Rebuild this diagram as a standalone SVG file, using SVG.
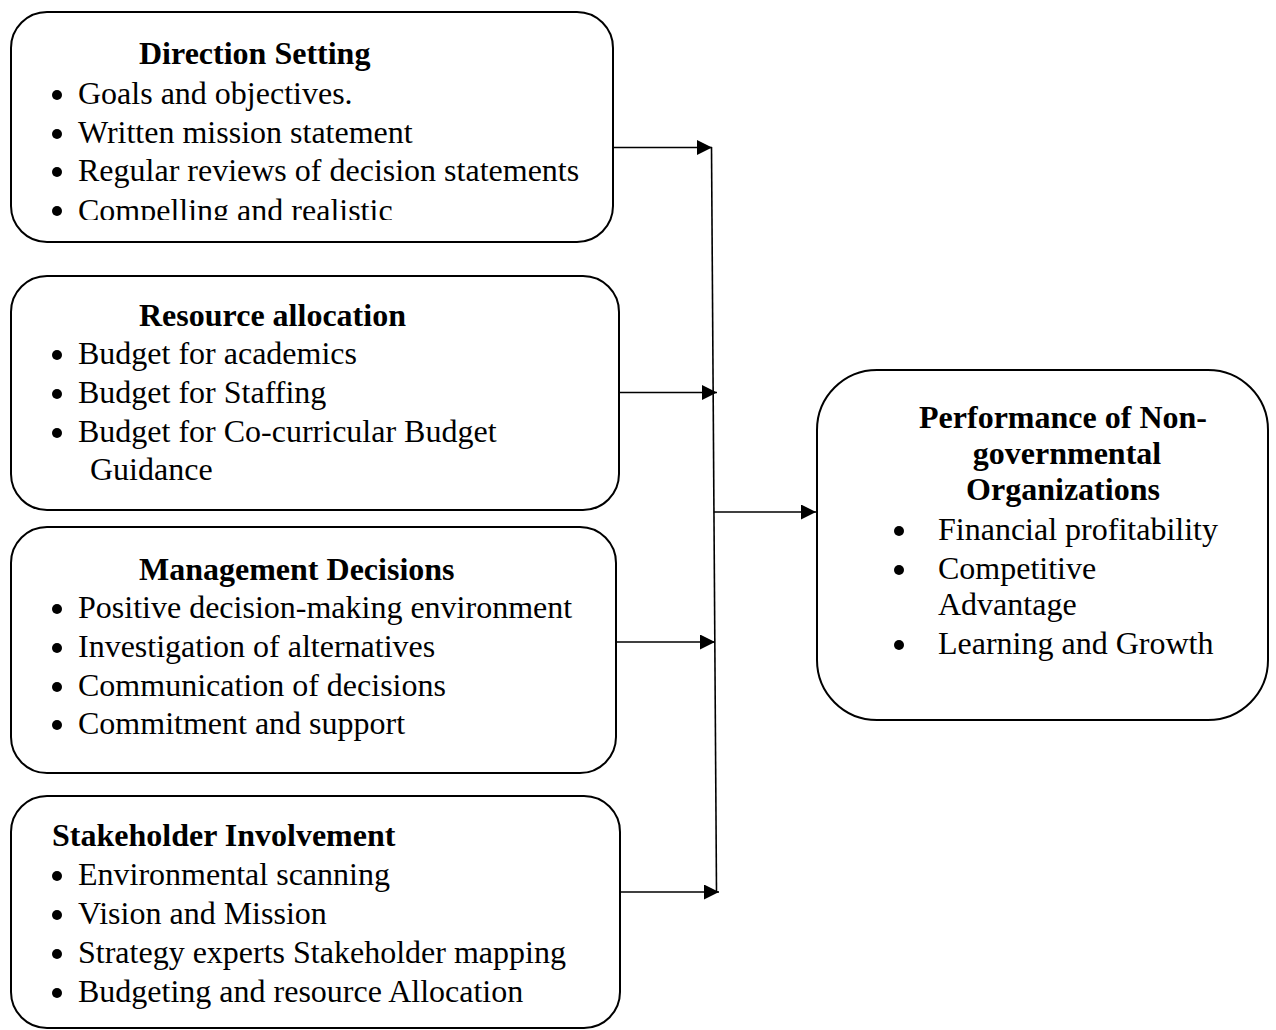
<svg xmlns="http://www.w3.org/2000/svg" width="1276" height="1030" viewBox="0 0 1276 1030">
  <style>
    .box { fill: #ffffff; stroke: #000000; stroke-width: 2; }
    .title { font-family: "Liberation Serif", "Times New Roman", serif; font-size: 32px; font-weight: bold; fill: #000; }
    .item { font-family: "Liberation Serif", "Times New Roman", serif; font-size: 32px; fill: #000; }
    .dot { fill: #000; }
    .wire { fill: none; stroke: #000; stroke-width: 1.6; }
  </style>
  <defs>
    <marker id="arrow" markerUnits="userSpaceOnUse" markerWidth="16" markerHeight="16" refX="15" refY="7.5" orient="auto">
      <path d="M0,0 L15,7.5 L0,15 z" fill="#000"/>
    </marker>
    <clipPath id="clip-direction">
      <rect x="0" y="0" width="620" height="220"/>
    </clipPath>
  </defs>
  <rect width="1276" height="1030" fill="#ffffff"/>

  <!-- Input factor: direction setting -->
  <g id="direction-setting">
    <rect class="box" x="11" y="12" width="602" height="230" rx="36" ry="36"/>
    <text class="title" x="139" y="64">Direction Setting</text>
    <circle class="dot" cx="57" cy="95" r="5"/>
    <text class="item" x="78" y="104">Goals and objectives.</text>
    <circle class="dot" cx="57" cy="134" r="5"/>
    <text class="item" x="78" y="143">Written mission statement</text>
    <circle class="dot" cx="57" cy="172" r="5"/>
    <text class="item" x="78" y="181">Regular reviews of decision statements</text>
    <g clip-path="url(#clip-direction)">
      <circle class="dot" cx="57" cy="211" r="5"/>
      <text class="item" x="78" y="221">Compelling and realistic</text>
    </g>
  </g>

  <!-- Input factor: resource allocation -->
  <g id="resource-allocation">
    <rect class="box" x="11" y="276" width="608" height="234" rx="36" ry="36"/>
    <text class="title" x="139" y="326">Resource allocation</text>
    <circle class="dot" cx="57" cy="355" r="5"/>
    <text class="item" x="78" y="364">Budget for academics</text>
    <circle class="dot" cx="57" cy="394" r="5"/>
    <text class="item" x="78" y="403">Budget for Staffing</text>
    <circle class="dot" cx="57" cy="433" r="5"/>
    <text class="item" x="78" y="442">Budget for Co-curricular Budget</text>
    <text class="item" x="90" y="480">Guidance</text>
  </g>

  <!-- Input factor: management decisions -->
  <g id="management-decisions">
    <rect class="box" x="11" y="527" width="605" height="246" rx="36" ry="36"/>
    <text class="title" x="139" y="580">Management Decisions</text>
    <circle class="dot" cx="57" cy="609" r="5"/>
    <text class="item" x="78" y="618">Positive decision-making environment</text>
    <circle class="dot" cx="57" cy="648" r="5"/>
    <text class="item" x="78" y="657">Investigation of alternatives</text>
    <circle class="dot" cx="57" cy="687" r="5"/>
    <text class="item" x="78" y="696">Communication of decisions</text>
    <circle class="dot" cx="57" cy="725" r="5"/>
    <text class="item" x="78" y="734">Commitment and support</text>
  </g>

  <!-- Input factor: stakeholder involvement -->
  <g id="stakeholder-involvement">
    <rect class="box" x="11" y="796" width="609" height="232" rx="36" ry="36"/>
    <text class="title" x="52" y="846">Stakeholder Involvement</text>
    <circle class="dot" cx="57" cy="876" r="5"/>
    <text class="item" x="78" y="885">Environmental scanning</text>
    <circle class="dot" cx="57" cy="915" r="5"/>
    <text class="item" x="78" y="924">Vision and Mission</text>
    <circle class="dot" cx="57" cy="954" r="5"/>
    <text class="item" x="78" y="963">Strategy experts Stakeholder mapping</text>
    <circle class="dot" cx="57" cy="993" r="5"/>
    <text class="item" x="78" y="1002">Budgeting and resource Allocation</text>
  </g>

  <!-- Outcome: NGO performance -->
  <g id="ngo-performance">
    <rect class="box" x="817" y="370" width="451" height="350" rx="60" ry="60"/>
    <text class="title" x="1063" y="428" text-anchor="middle">Performance of Non-</text>
    <text class="title" x="1067" y="464" text-anchor="middle">governmental</text>
    <text class="title" x="1063" y="500" text-anchor="middle">Organizations</text>
    <circle class="dot" cx="899" cy="531" r="5"/>
    <text class="item" x="938" y="540">Financial profitability</text>
    <circle class="dot" cx="899" cy="570" r="5"/>
    <text class="item" x="938" y="579">Competitive</text>
    <text class="item" x="938" y="615">Advantage</text>
    <circle class="dot" cx="899" cy="645" r="5"/>
    <text class="item" x="938" y="654">Learning and Growth</text>
  </g>

  <!-- Connectors -->
  <g id="connectors">
    <line class="wire" x1="711.5" y1="147" x2="716.5" y2="892"/>
    <line class="wire" x1="613" y1="147.5" x2="712" y2="147.5" marker-end="url(#arrow)"/>
    <line class="wire" x1="619" y1="392.5" x2="717" y2="392.5" marker-end="url(#arrow)"/>
    <line class="wire" x1="616" y1="642" x2="715" y2="642" marker-end="url(#arrow)"/>
    <line class="wire" x1="620" y1="892" x2="719" y2="892" marker-end="url(#arrow)"/>
    <line class="wire" x1="714" y1="512" x2="816" y2="512" marker-end="url(#arrow)"/>
  </g>
</svg>
